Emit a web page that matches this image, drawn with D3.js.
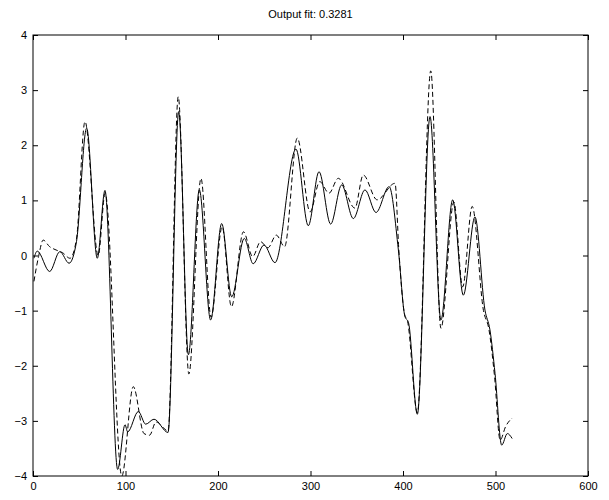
<!DOCTYPE html>
<html>
<head>
<meta charset="utf-8">
<script src="https://cdn.jsdelivr.net/npm/d3@7"></script>
<style>
  body { margin: 0; background: #fff; }
  svg { display: block; font-family: "Liberation Sans", Arial, Helvetica, sans-serif; }
</style>
</head>
<body>
<svg id="chart" width="609" height="500"></svg>
<script>
// output fit (sample index, value)
let solidX = [1, 4.6, 18, 29, 39, 47, 58, 69.5, 77.8, 91.5, 99.5, 102.3, 113.9, 121.8, 130.8, 146,
  157.5, 168, 179.8, 192, 204, 214.8, 228.4, 238, 249.7, 261.6, 284.3, 297.6, 309.2, 321.8, 333.7,
  346.3, 358.9, 370.8, 385, 395, 402, 406, 415.5, 429.2, 441, 453.7, 465.2, 477.8, 488.6, 494,
  499.5, 506.7, 512.8, 518];
let solidY = [-0.05, 0.08, -0.29, 0.07, -0.14, 0.25, 2.31, -0.05, 1.18, -3.88, -3.07, -3.2, -2.83, -3.06, -2.97, -3.21,
  2.61, -1.8, 1.19, -1.17, 0.58, -0.75, 0.31, -0.15, 0.19, -0.13, 1.93, 0.54, 1.52, 0.57, 1.28,
  0.67, 1.19, 0.78, 1.25, 0.1, -1.1, -1.22, -2.88, 2.52, -1.17, 1.01, -0.72, 0.7, -0.99, -1.35,
  -2.14, -3.44, -3.23, -3.32];

let dashX = [1, 6, 11, 18, 25, 32, 40, 47, 56.2, 70.5, 78, 96, 108.4, 120, 126, 133, 146,
  157, 168.5, 181.6, 192.5, 204.5, 214.5, 227.5, 237.5, 246, 254, 263, 272, 285.7, 299.5, 310,
  320, 330, 348, 357, 372, 391.4, 395.5, 401.5, 405, 415.5, 430, 441, 455, 464.5, 474.8, 487,
  493, 499, 505, 511, 518];
let dashY = [-0.47, -0.02, 0.28, 0.16, 0.1, 0.05, -0.05, 0.3, 2.43, 0.0, 1.13, -4.0, -2.38, -3.23, -3.26, -3.02, -3.18,
  2.88, -2.15, 1.4, -1.12, 0.52, -0.93, 0.43, -0.02, 0.25, 0.14, 0.37, 0.16, 2.13, 0.79, 1.34,
  1.13, 1.4, 0.86, 1.46, 1.01, 1.31, 0.1, -1.05, -1.2, -2.85, 3.35, -1.32, 0.97, -0.57, 0.89, -1.0,
  -1.35, -2.2, -3.35, -3.1, -2.95];

let xTicks = [0, 100, 200, 300, 400, 500, 600];
let yTicks = [-4, -3, -2, -1, 0, 1, 2, 3, 4];
let title = "Output fit: 0.3281";

let svg = d3.select("#chart");
let W = 609, H = 500;
let margin = {top: 35, right: 21, bottom: 24, left: 33};
let w = W - margin.left - margin.right;
let h = H - margin.top - margin.bottom;

svg.append("rect").attr("width", W).attr("height", H).attr("fill", "#fff");

let x = d3.scaleLinear().domain([0, 600]).range([0, w]);
let y = d3.scaleLinear().domain([-4, 4]).range([h, 0]);

let g = svg.append("g").attr("transform", `translate(${margin.left},${margin.top})`);

g.append("clipPath").attr("id", "clip")
	.append("rect").attr("width", w).attr("height", h);

let line = d3.line()
	.x(d => x(d[0]))
	.y(d => y(d[1]))
	.curve(d3.curveMonotoneX);

let solid = solidX.map((v, i) => [v, solidY[i]]);
let dashed = dashX.map((v, i) => [v, dashY[i]]);

g.append("path")
	.datum(solid)
	.attr("clip-path", "url(#clip)")
	.attr("fill", "none")
	.attr("stroke", "#000")
	.attr("stroke-width", 1)
	.attr("d", line);

g.append("path")
	.datum(dashed)
	.attr("clip-path", "url(#clip)")
	.attr("fill", "none")
	.attr("stroke", "#000")
	.attr("stroke-width", 1)
	.attr("stroke-dasharray", "5,3")
	.attr("d", line);

// axes, ticks inside on all four sides
let fmt = d => d3.format("d")(d).replace("-", "\u2212");
let axBottom = g.append("g").attr("transform", `translate(0,${h})`)
	.call(d3.axisBottom(x).tickValues(xTicks).tickFormat(fmt).tickSizeInner(-5).tickSizeOuter(0).tickPadding(6));
let axLeft = g.append("g")
	.call(d3.axisLeft(y).tickValues(yTicks).tickFormat(fmt).tickSizeInner(-5).tickSizeOuter(0).tickPadding(6));
let axTop = g.append("g")
	.call(d3.axisTop(x).tickValues(xTicks).tickFormat("").tickSizeInner(-5).tickSizeOuter(0));
let axRight = g.append("g").attr("transform", `translate(${w},0)`)
	.call(d3.axisRight(y).tickValues(yTicks).tickFormat("").tickSizeInner(-5).tickSizeOuter(0));

[axBottom, axLeft, axTop, axRight].forEach(a => {
	a.select(".domain").remove();
	a.selectAll("text").attr("font-size", 11).attr("fill", "#000").attr("font-family", "Liberation Sans, Arial, sans-serif");
	a.selectAll("line").attr("stroke", "#000");
});

g.append("rect")
	.attr("width", w).attr("height", h)
	.attr("fill", "none").attr("stroke", "#000").attr("stroke-width", 1);

svg.append("text")
	.attr("x", margin.left + w / 2)
	.attr("y", 18)
	.attr("text-anchor", "middle")
	.attr("font-size", 11)
	.attr("fill", "#000")
	.text(title);
</script>
</body>
</html>
